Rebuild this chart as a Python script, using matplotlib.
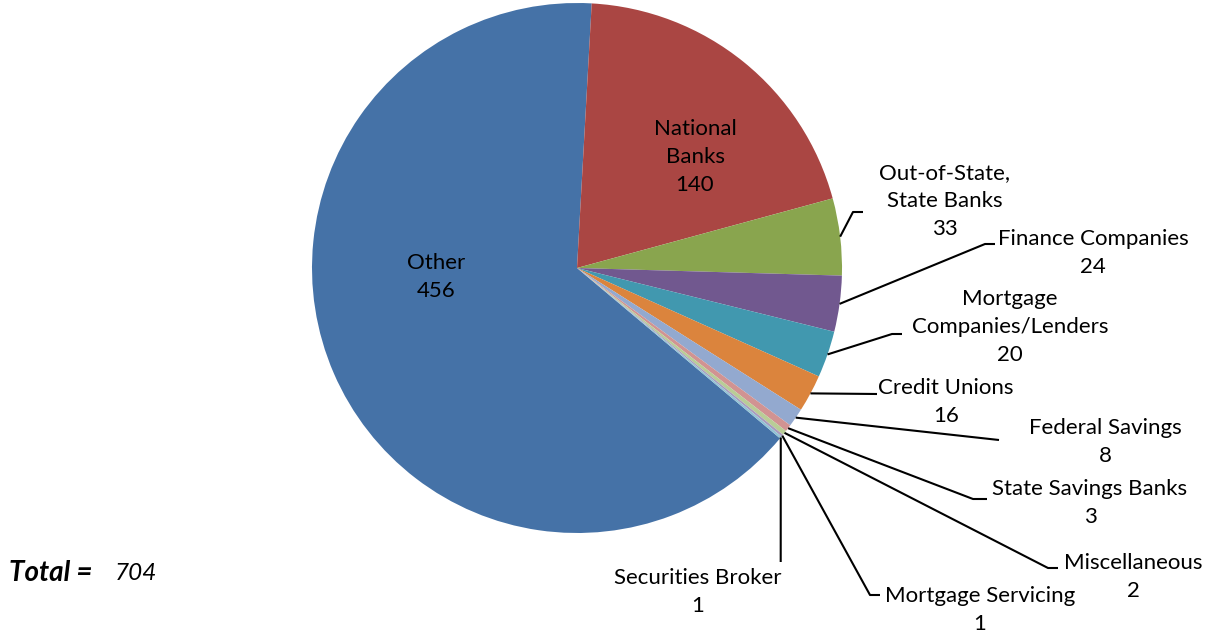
import matplotlib
matplotlib.use("Agg")
import matplotlib.pyplot as plt
import numpy as np

# ------------------ DATA ------------------
categories = [
    "Other", "National\nBanks", "Out-of-State,\nState Banks", "Finance Companies",
    "Mortgage\nCompanies/Lenders", "Credit Unions", "Federal Savings",
    "State Savings Banks", "Miscellaneous", "Mortgage Servicing", "Securities Broker",
]
counts = [456, 140, 33, 24, 20, 16, 8, 3, 2, 1, 1]
colors = ["#4572A7", "#AA4643", "#89A54E", "#71588F", "#4198AF", "#DB843D",
          "#93A9CF", "#D19392", "#B9CD96", "#A99BBD", "#92C3D4"]
total = sum(counts)

# ------------------ LAYOUT (pixel space, y up) ------------------
W, H = 1214, 632
cx, cy, R = 577, H - 268, 265

# label centre, elbow point, end of horizontal stub
outside = {
    2: ((945, H - 201), (853, H - 212), (863, H - 212)),
    3: ((1093, H - 253), (985, H - 244), (995, H - 244)),
    4: ((1010, H - 327), (892, H - 334), (902, H - 334)),
    5: ((946, H - 402), None, (877, H - 394)),
    6: ((1105, H - 442), None, (999, H - 440)),
    7: ((1090, H - 503), (973, H - 499), (987, H - 499)),
    8: ((1133, H - 577), (1048, H - 568), (1058, H - 568)),
    9: ((980, H - 610), (870, H - 595), (880, H - 595)),
    10: ((698, H - 592), None, (780.7, H - 562)),
}
inside = {0: (436, H - 277), 1: (695, H - 157)}

FONT = "Lato"
FS = 16
LS = 1.52

fig = plt.figure(figsize=(W / 100, H / 100), dpi=100)
ax = fig.add_axes([0, 0, 1, 1])

wedges, _ = ax.pie(counts, colors=colors, startangle=320, counterclock=False,
                   center=(cx, cy), radius=R, wedgeprops=dict(linewidth=0))
ax.set_xlim(0, W)
ax.set_ylim(0, H)
ax.set_aspect("equal")
ax.axis("off")

for i, w in enumerate(wedges):
    txt = f"{categories[i]}\n{counts[i]}"
    if i in inside:
        x, y = inside[i]
        ax.text(x, y, txt, ha="center", va="center", fontsize=FS, family=FONT,
                linespacing=LS)
        continue
    (lx, ly), elbow, end = outside[i]
    mid = np.deg2rad((w.theta1 + w.theta2) / 2)
    sx, sy = cx + R * np.cos(mid), cy + R * np.sin(mid)
    pts = [(sx, sy)] + ([elbow] if elbow else []) + [end]
    xs, ys = zip(*pts)
    ax.plot(xs, ys, color="black", lw=1.5, solid_capstyle="butt")
    ax.text(lx, ly, txt, ha="center", va="center", fontsize=FS, family=FONT,
            linespacing=LS)

fig.text(9 / W, 1 - 573 / H, "Total =", fontsize=20, family=FONT,
         fontweight="bold", fontstyle="italic", va="center")
fig.text(115 / W, 1 - 573 / H, str(total), fontsize=17.5, family=FONT,
         fontstyle="italic", va="center")

fig.savefig("out.png", dpi=100)
